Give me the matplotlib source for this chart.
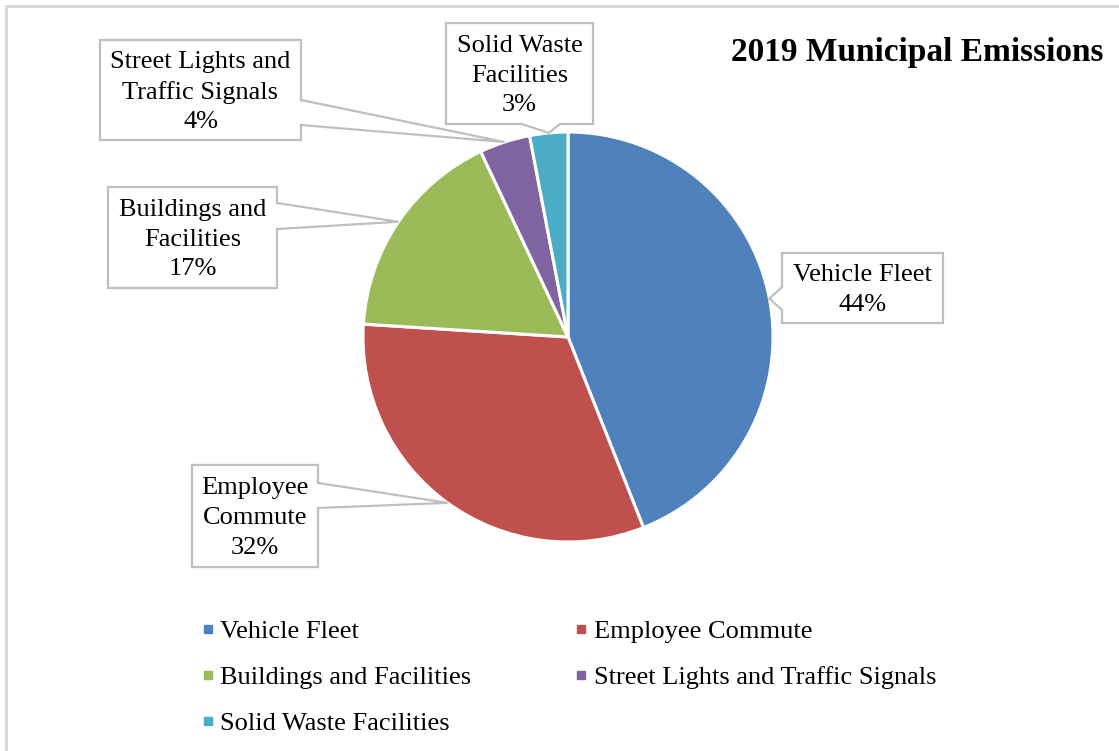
import numpy as np
import matplotlib.pyplot as plt
from matplotlib.patches import Polygon
from matplotlib.lines import Line2D

plt.rcParams['font.family'] = ['Liberation Serif', 'DejaVu Serif']

categories = ["Vehicle Fleet", "Employee Commute", "Buildings and Facilities",
              "Street Lights and Traffic Signals", "Solid Waste Facilities"]
shares = [44, 32, 17, 4, 3]
colors = ["#4F81BD", "#C0504D", "#9BBB59", "#8064A2", "#4BACC6"]
title = "2019 Municipal Emissions"

# Callout text lines for each slice
callout_names = ["Vehicle Fleet", "Employee\nCommute", "Buildings and\nFacilities",
                 "Street Lights and\nTraffic Signals", "Solid Waste\nFacilities"]

W, H = 1119, 751
fig = plt.figure(figsize=(W / 100, H / 100), dpi=100)
ax = fig.add_axes([0, 0, 1, 1])

cx, cy, R = 568, H - 337, 205
wedges, _ = ax.pie(shares, colors=colors, startangle=90, counterclock=False,
                   center=(cx, cy), radius=R,
                   wedgeprops=dict(edgecolor="white", linewidth=2.2))
ax.set_xlim(0, W)
ax.set_ylim(0, H)
ax.set_aspect("equal")
ax.axis("off")

# Outer chart frame
ax.plot([6, 6, W + 5], [-5, H - 6, H - 6], color="#D9D9D9", lw=2.2,
        solid_joinstyle="miter", zorder=0)

# Callout boxes: (left, top, right, bottom) in pixel rows from the top,
# side of the pointer, and the pointer base span along that side
boxes = [
    ((782, 253, 943, 323), "left", (287, 310)),
    ((192, 465, 318, 567), "right", (483, 508)),
    ((108, 187, 277, 288), "right", (203, 229)),
    ((100, 40, 301, 140), "right", (100, 125)),
    ((446, 23, 593, 124), "bottom", (522, 560)),
]

fs = 19
for w, name, val, (box, side, span) in zip(wedges, callout_names, shares, boxes):
    mid = np.deg2rad((w.theta1 + w.theta2) / 2)
    tip = (cx + R * np.cos(mid), cy + R * np.sin(mid))
    l, t, r, b = box
    t, b = H - t, H - b
    if side == "right":
        s0, s1 = H - span[0], H - span[1]
        verts = [(l, t), (r, t), (r, s0), tip, (r, s1), (r, b), (l, b)]
    elif side == "left":
        s0, s1 = H - span[0], H - span[1]
        verts = [(l, t), (r, t), (r, b), (l, b), (l, s1), tip, (l, s0)]
    else:
        verts = [(l, t), (r, t), (r, b), (span[1], b), tip, (span[0], b), (l, b)]
    ax.add_patch(Polygon(verts, closed=True, facecolor="white",
                         edgecolor="#BFBFBF", lw=1.6, zorder=3))
    ax.text((l + r) / 2, (t + b) / 2 - 2, f"{name}\n{val}%", ha="center",
            va="center", fontsize=fs, linespacing=1.45, zorder=4)

ax.text(917, H - 53, title, ha="center", va="center", fontsize=24,
        fontweight="bold")

# Legend laid out row by row in two columns
order = [0, 2, 4, 1, 3]
handles = [Line2D([], [], marker="s", linestyle="none", color=colors[i],
                  markersize=5.2) for i in order]
labels = [categories[i] for i in order]
fig.legend(handles, labels, ncol=2, frameon=False, fontsize=fs,
           loc="upper left", bbox_to_anchor=(201 / W, 1 - 620 / H),
           borderaxespad=0, borderpad=0, handlelength=0.5, handletextpad=0.22,
           labelspacing=0.84, columnspacing=3.93)

fig.savefig("out.png", dpi=100)
